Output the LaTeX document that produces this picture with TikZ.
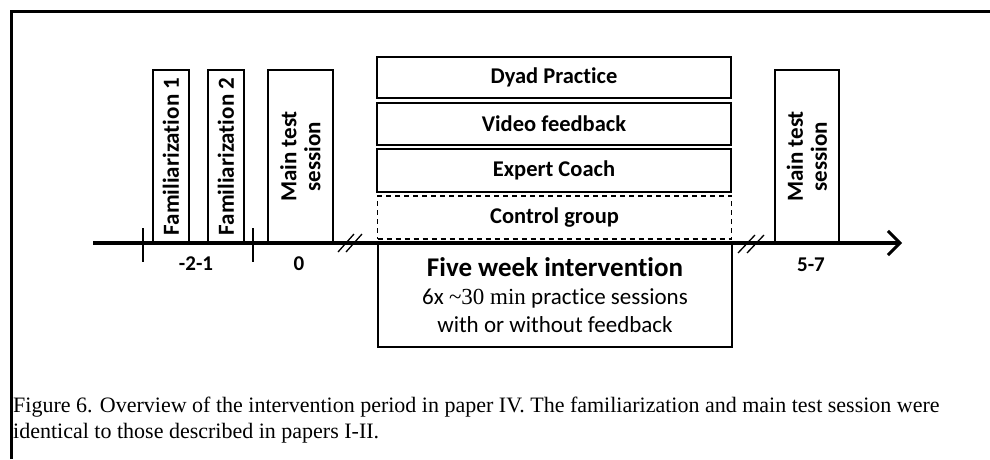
\documentclass[tikz,border=0pt]{standalone}
\usepackage{fontspec}
\setmainfont{Liberation Serif}
\newfontfamily\calfont[Ligatures=NoCommon]{Carlito}
\usetikzlibrary{arrows.meta}
\begin{document}
\begin{tikzpicture}[x=1pt,y=-1pt,
  box/.style={draw,line width=1.8pt,inner sep=0pt,align=center,font=\calfont\bfseries\fontsize{22.5}{24}\selectfont},
  vbox/.style={box,rotate=90,font=\calfont\bfseries\fontsize{23}{24}\selectfont},
  lab/.style={font=\calfont\bfseries\fontsize{21}{24}\selectfont,inner sep=0pt},
  brk/.style={line width=1.3pt},
  tick/.style={line width=1.3pt}]
\useasboundingbox (0,0) rectangle (990,459);
% frame
\draw[line width=3pt] (11,459) -- (11,11) -- (990,11);
% axis
\coordinate (axS) at (93,243);
\coordinate (axE) at (902,243);
\draw[line width=3.5pt,-{Straight Barb[length=12pt,width=24pt,line width=3pt]}] (axS) -- (axE);
% ticks
\coordinate (t1a) at (143,228); \coordinate (t1b) at (143,262);
\coordinate (t2a) at (253,228); \coordinate (t2b) at (253,262);
\draw[tick] (t1a) -- (t1b);
\draw[tick] (t2a) -- (t2b);
% vertical boxes
\node[vbox,minimum width=173pt,minimum height=36pt] (fam1) at (171,156.5) {Familiarization 1};
\node[vbox,minimum width=173pt,minimum height=36pt] (fam2) at (226,156.5) {Familiarization 2};
\node[vbox,minimum width=173pt,minimum height=65pt] (main1) at (300.5,156.5) {Main test\\session};
\node[vbox,minimum width=173pt,minimum height=64pt] (main2) at (807,156.5) {Main test\\session};
% group boxes
\node[box,minimum width=354pt,minimum height=41pt] (dyad) at (554,77.5) {Dyad Practice};
\node[box,minimum width=354pt,minimum height=42pt] (video) at (554,124) {Video feedback};
\node[box,minimum width=354pt,minimum height=43pt] (expert) at (554,170.5) {Expert Coach};
\node[box,dash pattern=on 5pt off 4pt,line width=1.5pt,minimum width=354pt,minimum height=43pt] (control) at (554.5,217.5) {Control group};
\node[box,minimum width=354pt,minimum height=104pt,font=\calfont\fontsize{23}{28}\selectfont] (five) at (555,295)
  {{\bfseries\fontsize{27}{28}\selectfont Five week intervention}\\6x {\rmfamily\textasciitilde 30 min} practice sessions\\with or without feedback};
% break marks
\coordinate (b1a) at (338,252); \coordinate (b1b) at (354,234);
\coordinate (b2a) at (346,252); \coordinate (b2b) at (362,234);
\coordinate (b3a) at (738,253); \coordinate (b3b) at (755,235);
\coordinate (b4a) at (747,253); \coordinate (b4b) at (764,235);
\draw[brk] (b1a) -- (b1b);
\draw[brk] (b2a) -- (b2b);
\draw[brk] (b3a) -- (b3b);
\draw[brk] (b4a) -- (b4b);
% labels
\node[lab] (l1) at (196,264) {-2-1};
\node[lab] (l2) at (299,264) {0};
\node[lab] (l3) at (811,265) {5-7};
% caption
\node[anchor=west,inner sep=0pt,font=\fontsize{22}{26}\selectfont] (cap1) at (13,407) {Figure 6. Overview of the intervention period in paper IV. The familiarization and main test session were};
\node[anchor=west,inner sep=0pt,font=\fontsize{22}{26}\selectfont] (cap2) at (13,433) {identical to those described in papers I-II.};
\end{tikzpicture}
\end{document}
